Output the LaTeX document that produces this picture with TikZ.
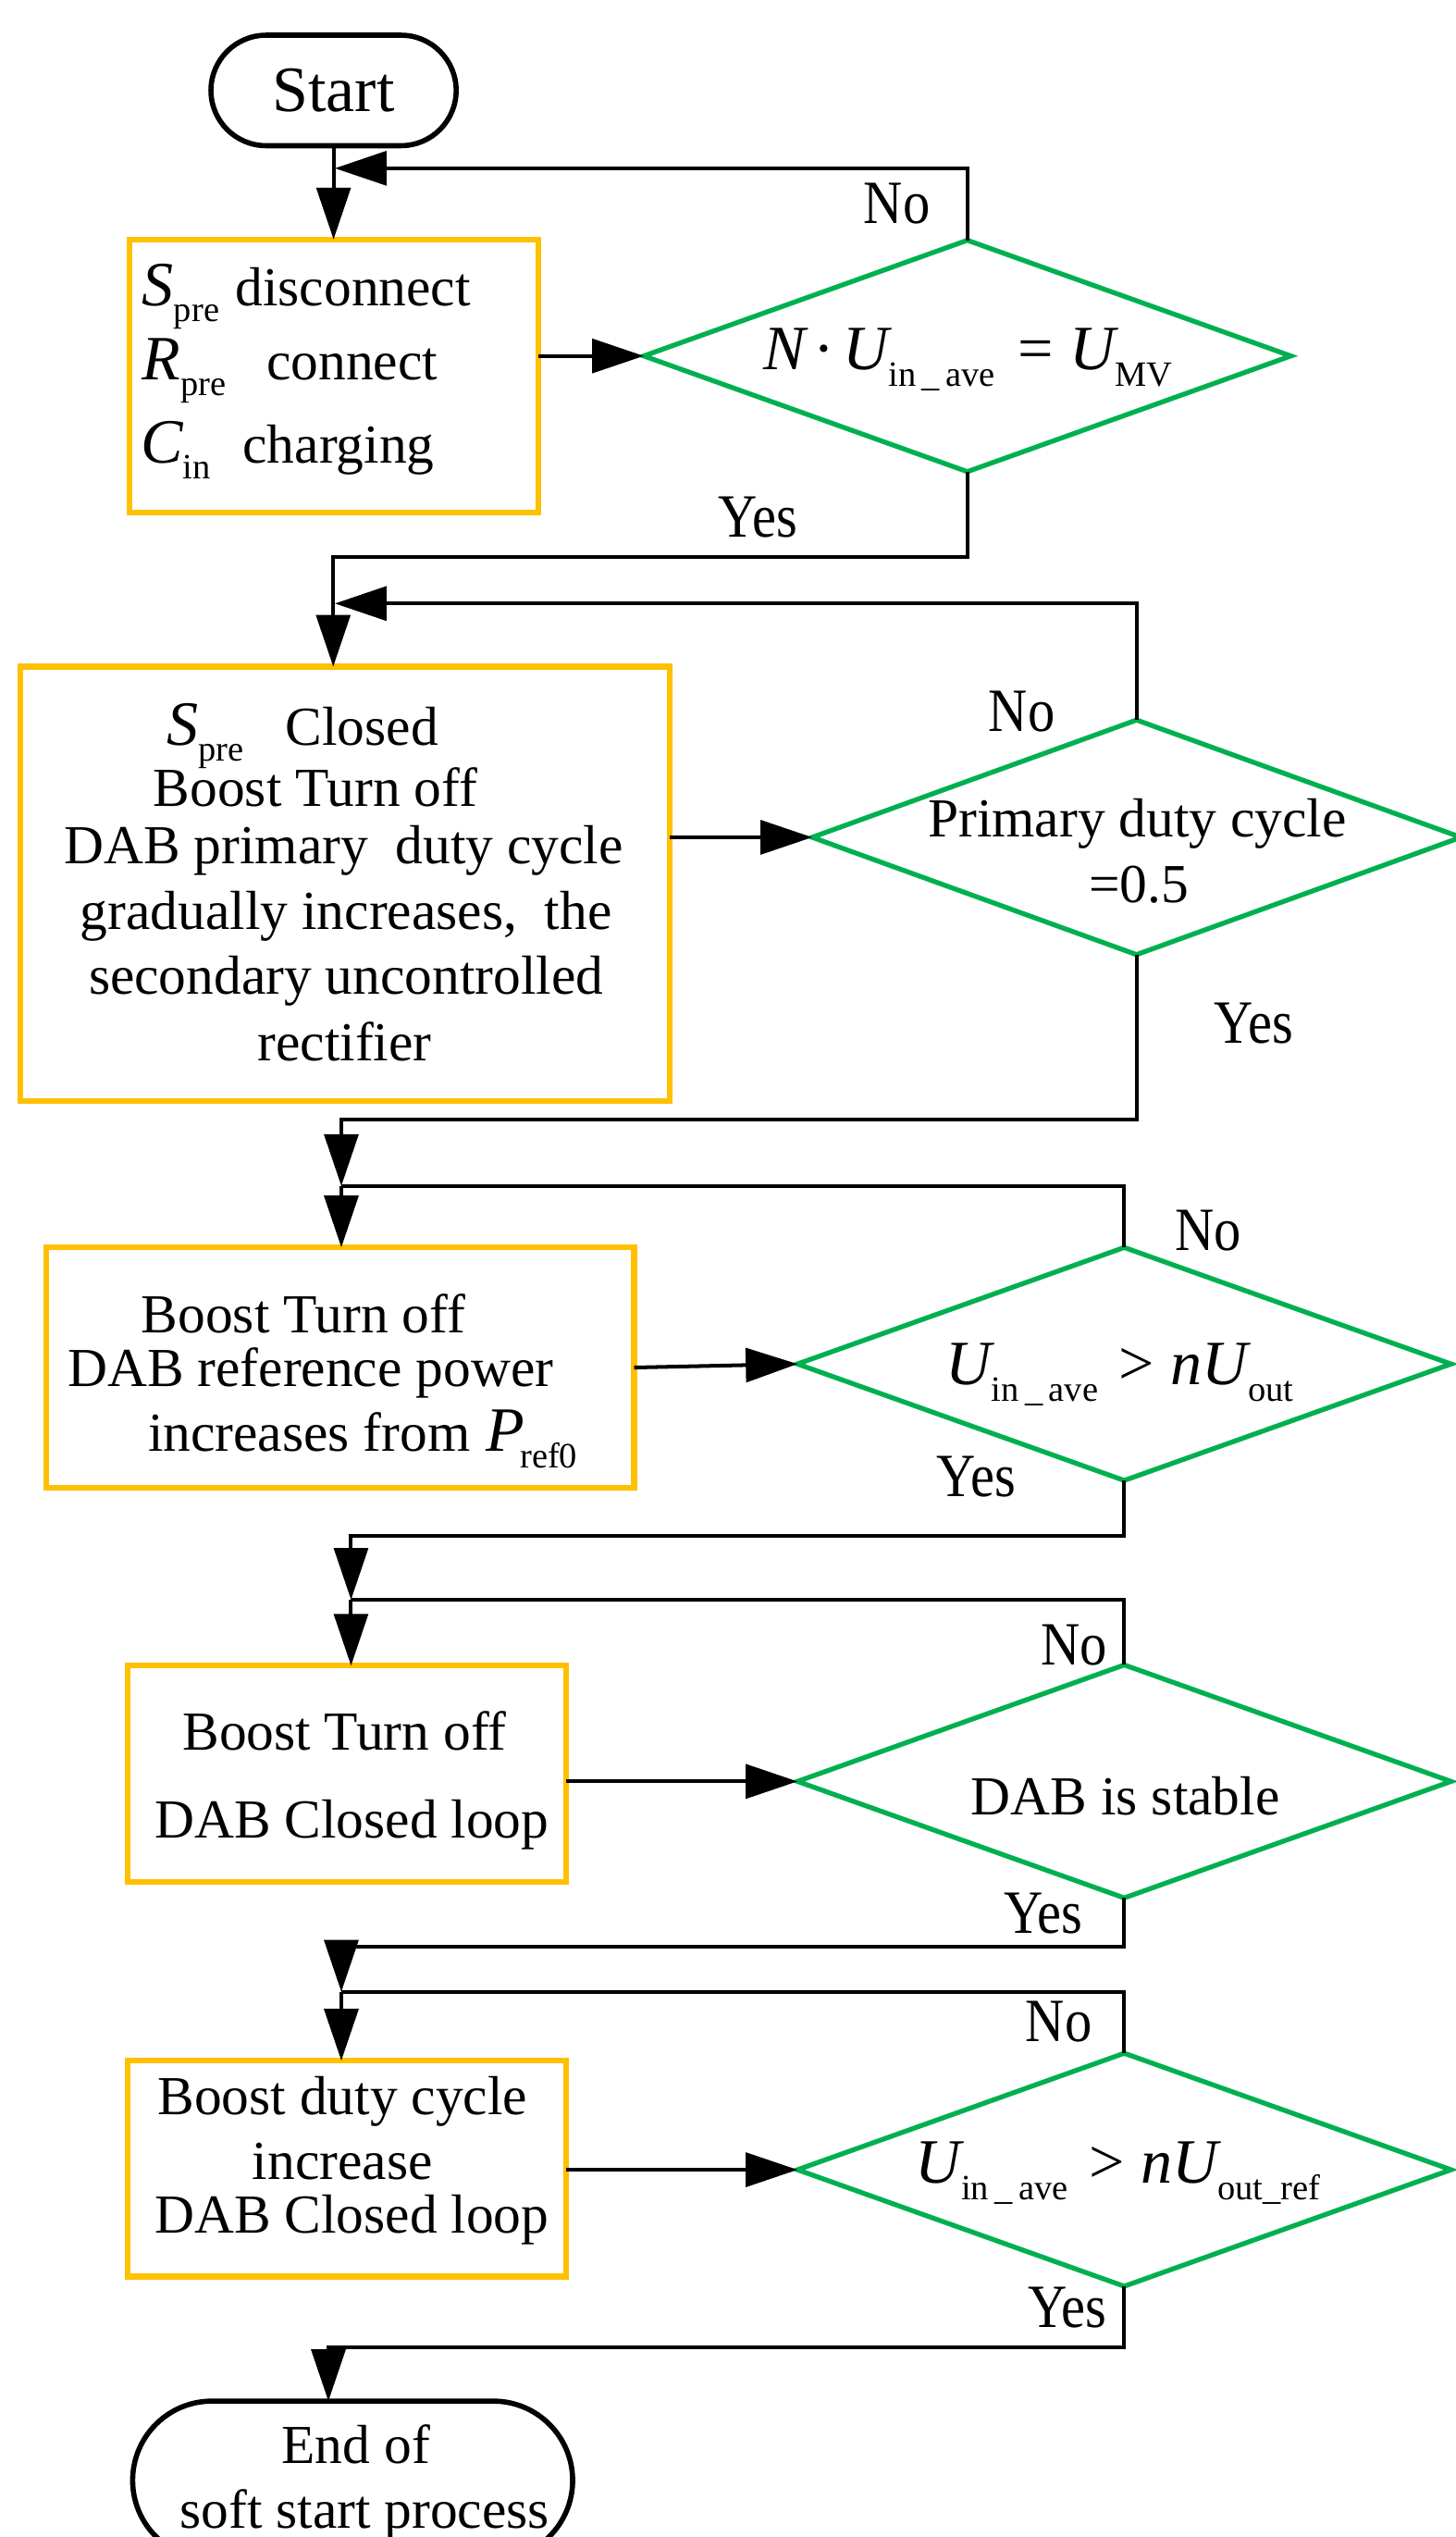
\documentclass[tikz,border=0pt]{standalone}
\usepackage{fontspec}
\setmainfont{Liberation Serif}
\usetikzlibrary{shapes.geometric,shapes.misc,arrows.meta}
\definecolor{boxorange}{HTML}{FFC000}
\definecolor{decgreen}{HTML}{00B050}
\newcommand\bodysize{\fontsize{34}{39}\selectfont}
\newcommand\mv[1]{{\fontsize{39}{39}\selectfont\itshape #1}}
\newcommand\mup[1]{{\fontsize{39}{39}\selectfont #1}}
\newcommand\subsc[1]{\raisebox{-10pt}[0pt][0pt]{\fontsize{22}{22}\selectfont #1}}
\newcommand\lbl[1]{\scalebox{0.88}[1]{\fontsize{38}{38}\selectfont #1}}
\begin{document}
\begin{tikzpicture}[x=1pt,y=-1pt,
  conn/.style={line width=2.3pt},
  arr/.style={conn,-{Triangle[length=32pt,width=21pt]}},
  procbox/.style={draw=boxorange,line width=3.5pt,rectangle,inner sep=0pt,outer sep=0pt},
  decbox/.style={draw=decgreen,line width=3pt,diamond,inner sep=0pt,outer sep=0pt},
  termbox/.style={draw=black,line width=3.2pt,rounded rectangle,inner sep=0pt,outer sep=0pt},
  txt/.style={inner sep=0pt,outer sep=0pt,font=\bodysize,anchor=base},
  txtl/.style={txt,anchor=base west},
  yn/.style={inner sep=0pt,anchor=base}]

\fill[white] (0,0) rectangle (900,1568);
\useasboundingbox (0,0) rectangle (900,1568);

% start
\node[termbox,minimum width=151.6pt,minimum height=68.3pt,font=\fontsize{40}{40}\selectfont] (start) at (206.2,55.9) {Start};

% box 1
\node[procbox,minimum width=253pt,minimum height=168.7pt] (b1) at (206.5,232.3) {};
\node[txtl] (b1a) at (88,189) {\mv{S}\subsc{pre}\hspace{10pt}disconnect};
\node[txtl] (b1b) at (88,234.5) {\mv{R}\subsc{pre}\hspace{25pt}connect};
\node[txtl] (b1c) at (87,286) {\mv{C}\subsc{in}\hspace{20pt}charging};

% diamond 1
\node[decbox,minimum width=400pt,minimum height=143pt] (d1) at (598,220) {};
\node[txtl] (d1t) at (472,228.6) {\mv{N}\hspace{5pt}\mup{·}\hspace{5pt}\mv{U}\subsc{in\,\_\,ave}\hspace{14pt}\mup{=}\hspace{10pt}\mv{U}\subsc{MV}};

% box 2
\node[procbox,minimum width=401.4pt,minimum height=268.6pt] (b2) at (213.3,546.3) {};
\node[txtl] (b2a) at (103,460.6) {\mv{S}\subsc{pre}\hspace{26pt}Closed};
\node[txt] (b2b) at (195,498.4) {Boost Turn off};
\node[txt] (b2c) at (212.5,534) {DAB primary\ \ duty cycle};
\node[txt] (b2d) at (214,574.4) {gradually increases,\ \ the};
\node[txt] (b2e) at (214,614.5) {secondary uncontrolled};
\node[txt] (b2f) at (213,655.5) {rectifier};

% diamond 2
\node[decbox,minimum width=401pt,minimum height=145pt] (d2) at (702.6,517.5) {};
\node[txt] (d2a) at (703,517.5) {Primary duty cycle};
\node[txt] (d2b) at (704,558) {=0.5};

% box 3
\node[procbox,minimum width=363.4pt,minimum height=148.5pt] (b3) at (210.3,845.2) {};
\node[txt] (b3a) at (187.5,823.8) {Boost Turn off};
\node[txt] (b3b) at (192,856.7) {DAB reference power};
\node[txtl] (b3c) at (91.5,897) {increases from\hspace{10pt}\mv{P}\kern-3pt\subsc{ref0}};

% diamond 3
\node[decbox,minimum width=404pt,minimum height=144pt] (d3) at (695,843) {};
\node[txtl] (d3t) at (584.7,856) {\mv{U}\subsc{in\,\_\,ave}\hspace{13pt}\mup{>}\hspace{10pt}\mv{nU}\subsc{out}};

% box 4
\node[procbox,minimum width=271pt,minimum height=133.5pt] (b4) at (214.5,1096.2) {};
\node[txt] (b4a) at (213,1081.4) {Boost Turn off};
\node[txt] (b4b) at (217.5,1136) {DAB Closed loop};

% diamond 4
\node[decbox,minimum width=404pt,minimum height=144pt] (d4) at (695,1101) {};
\node[txt] (d4t) at (695.8,1121.5) {DAB is stable};

% box 5
\node[procbox,minimum width=271pt,minimum height=133.4pt] (b5) at (214.5,1340.3) {};
\node[txt] (b5a) at (211.7,1306.8) {Boost duty cycle};
\node[txt] (b5b) at (211.7,1346.9) {increase};
\node[txt] (b5c) at (217.5,1380.4) {DAB Closed loop};

% diamond 5
\node[decbox,minimum width=404pt,minimum height=144pt] (d5) at (695,1341) {};
\node[txtl] (d5t) at (566,1349.5) {\mv{U}\subsc{in\,\_\,ave}\hspace{13pt}\mup{>}\hspace{10pt}\mv{nU}\subsc{out\_ref}};

% end
\node[termbox,minimum width=272pt,minimum height=98pt] (stop) at (218,1533) {};
\node[txt] (stopa) at (220,1522.8) {End of};
\node[txt] (stopb) at (225.4,1562.5) {soft start process};

% labels
\node[yn] (no1) at (554.5,138) {\lbl{No}};
\node[yn] (yes1) at (468.6,332) {\lbl{Yes}};
\node[yn] (no2) at (631.7,451.8) {\lbl{No}};
\node[yn] (yes2) at (775,644.5) {\lbl{Yes}};
\node[yn] (no3) at (747,772.7) {\lbl{No}};
\node[yn] (yes3) at (603.6,925) {\lbl{Yes}};
\node[yn] (no4) at (664,1029) {\lbl{No}};
\node[yn] (yes4) at (645,1195) {\lbl{Yes}};
\node[yn] (no5) at (654.6,1262) {\lbl{No}};
\node[yn] (yes5) at (659.7,1438.6) {\lbl{Yes}};

% junctions
\coordinate (m1) at (207,104);
\coordinate (y1) at (206,344);
\coordinate (m2) at (207,373);
\coordinate (y2) at (211,692);
\coordinate (j3) at (211,733);
\coordinate (y3) at (217,949);
\coordinate (j4) at (217,988.7);
\coordinate (y4) at (211,1203);
\coordinate (j5) at (211,1231);
\coordinate (y5) at (203,1451);

% connectors
\draw[arr] (start.south) -- (start.south |- b1.north);
\draw[arr] (d1.north) |- (m1);
\draw[arr] (b1.east |- d1.west) -- (d1.west);
\draw[arr] (d1.south) |- (y1) -- (y1 |- b2.north);
\draw[arr] (d2.north) |- (m2);
\draw[arr] (b2.east |- d2.west) -- (d2.west);
\draw[arr] (d2.south) |- (y2) -- (j3);
\draw[conn] (d3.north) |- (j3);
\draw[arr] (j3) -- (j3 |- b3.north);
\draw[arr] (b3.east) -- (d3.west);
\draw[arr] (d3.south) |- (y3) -- (j4);
\draw[conn] (d4.north) |- (j4);
\draw[arr] (j4) -- (j4 |- b4.north);
\draw[arr] (b4.east |- d4.west) -- (d4.west);
\draw[arr] (d4.south) |- (y4) -- (j5);
\draw[conn] (d5.north) |- (j5);
\draw[arr] (j5) -- (j5 |- b5.north);
\draw[arr] (b5.east |- d5.west) -- (d5.west);
\draw[arr] (d5.south) |- (y5) -- (y5 |- stop.north);
\end{tikzpicture}
\end{document}
